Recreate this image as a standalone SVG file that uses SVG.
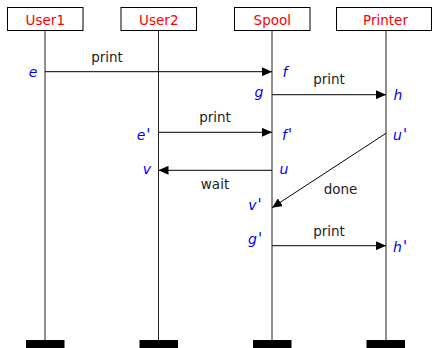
<svg xmlns="http://www.w3.org/2000/svg" width="433" height="348" viewBox="0 0 433 348">
<style>
.box{fill:#fff;stroke:#000;stroke-width:1}
.name{font-family:"DejaVu Sans",sans-serif;font-size:13.5px;fill:#ff0000;text-anchor:middle}
.life{stroke:#222;stroke-width:1}
.bar{fill:#000}
.msg{stroke:#000;stroke-width:1;fill:none;marker-end:url(#ah)}
.lbl{font-family:"DejaVu Sans",sans-serif;font-size:13.5px;fill:#222;text-anchor:middle}
.ev{font-family:"DejaVu Sans",sans-serif;font-size:14px;font-style:italic;fill:#0000ff;text-anchor:middle}
.pr{font-size:15px}
</style>
<defs>
<marker id="ah" markerUnits="userSpaceOnUse" markerWidth="10" markerHeight="9" refX="10" refY="4.5" orient="auto">
<path d="M0,0 L10,4.5 L0,9 Z" fill="#000"/>
</marker>
</defs>
<g id="user1">
<line class="life" x1="45" y1="30.5" x2="45" y2="340"/>
<rect class="box" x="7.5" y="7.5" width="75.5" height="23"/>
<text class="name" x="45.3" y="25">User1</text>
<rect class="bar" x="26" y="340" width="38.5" height="8"/>
</g>
<g id="user2">
<line class="life" x1="158.5" y1="30.5" x2="158.5" y2="340"/>
<rect class="box" x="121" y="7.5" width="75.5" height="23"/>
<text class="name" x="158.8" y="25">User2</text>
<rect class="bar" x="139.5" y="340" width="38.5" height="8"/>
</g>
<g id="spool">
<line class="life" x1="272" y1="30.5" x2="272" y2="340"/>
<rect class="box" x="234.5" y="7.5" width="75.5" height="23"/>
<text class="name" x="272.3" y="25">Spool</text>
<rect class="bar" x="253" y="340" width="38.5" height="8"/>
</g>
<g id="printer">
<line class="life" x1="386" y1="30.5" x2="386" y2="340"/>
<rect class="box" x="336.5" y="7.5" width="95" height="23"/>
<text class="name" x="385.5" y="25">Printer</text>
<rect class="bar" x="366.5" y="340" width="38.5" height="8"/>
</g>
<g id="connectors">
<line class="msg" x1="45" y1="71.7" x2="272" y2="71.7"/>
<line class="msg" x1="272" y1="94.7" x2="386" y2="94.7"/>
<line class="msg" x1="158.5" y1="132.3" x2="272" y2="132.3"/>
<line class="msg" x1="272" y1="170.3" x2="158.5" y2="170.3"/>
<line class="msg" x1="386" y1="133.3" x2="272" y2="207.7"/>
<line class="msg" x1="272" y1="245.7" x2="386" y2="245.7"/>
<text class="lbl" x="107" y="62">print</text>
<text class="lbl" x="329" y="83.5">print</text>
<text class="lbl" x="215" y="121.5">print</text>
<text class="lbl" x="215" y="188.5">wait</text>
<text class="lbl" x="340.5" y="193.5">done</text>
<text class="lbl" x="329" y="236">print</text>
</g>
<g id="events">
<text class="ev" x="33" y="76.5">e</text>
<text class="ev" x="285" y="76.5">f</text>
<text class="ev" x="259" y="97">g</text>
<text class="ev" x="398" y="100">h</text>
<text class="ev" x="143.5" y="139.5">e<tspan class="pr" dx="1">'</tspan></text>
<text class="ev" x="287" y="139.5">f<tspan class="pr" dx="1">'</tspan></text>
<text class="ev" x="400" y="139.5">u<tspan class="pr" dx="1">'</tspan></text>
<text class="ev" x="147" y="173.5">v</text>
<text class="ev" x="284" y="173.5">u</text>
<text class="ev" x="255" y="210">v<tspan class="pr" dx="1">'</tspan></text>
<text class="ev" x="255" y="244">g<tspan class="pr" dx="1">'</tspan></text>
<text class="ev" x="400" y="252">h<tspan class="pr" dx="1">'</tspan></text>
</g>
</svg>
